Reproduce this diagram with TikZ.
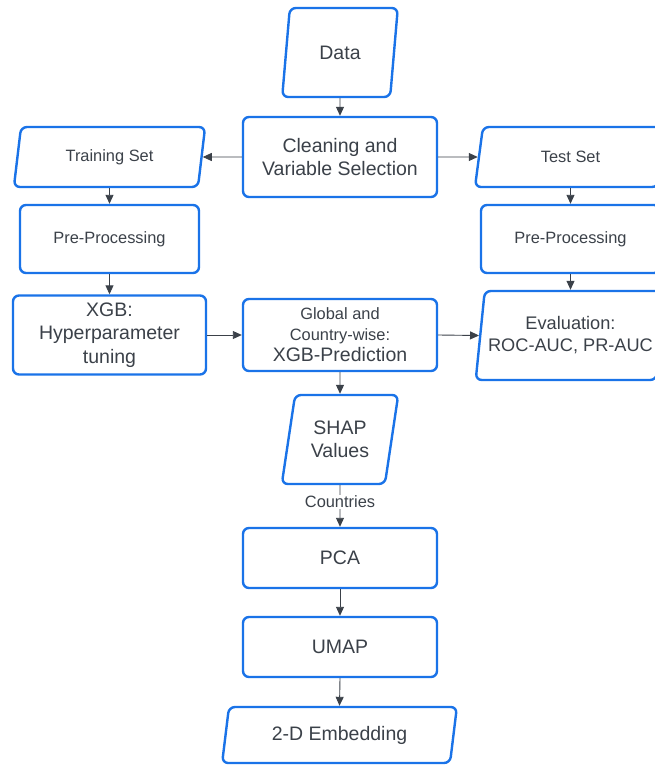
\documentclass[tikz,border=0pt]{standalone}
\usepackage{fontspec}
\setmainfont{Liberation Sans}
\usetikzlibrary{shapes.geometric, arrows.meta}
\definecolor{boxblue}{HTML}{1A73E8}
\definecolor{inkgray}{HTML}{3B4149}

\begin{document}
\begin{tikzpicture}[x=1pt, y=-1pt]
\tikzstyle{boxStyle}=[shape = rectangle, draw = boxblue, line width = 2.4pt,
rounded corners = 6pt, fill = white, text = inkgray, align = center, inner sep = 0pt]
\tikzstyle{ioStyle}=[shape = trapezium, trapezium left angle = 77, trapezium right angle = 103,
trapezium stretches = true, draw = boxblue, line width = 2.4pt,
rounded corners = 6pt, fill = white, text = inkgray, align = center, inner sep = 0pt]
\tikzstyle{bigStyle}=[font = \fontsize{19.5}{23.5}\selectfont]
\tikzstyle{smallStyle}=[font = \fontsize{16.4}{21}\selectfont]
\tikzstyle{arStyle}=[draw = inkgray, line width = 0.9pt, -{Triangle[length=9pt, width=8pt]}]
\tikzstyle{lblStyle}=[fill = white, text = inkgray, inner sep = 1pt, smallStyle]

\useasboundingbox (0,0) rectangle (655,765);
\clip (0,0) rectangle (655,765);

% middle column
\draw (340,52.5) node[ioStyle, bigStyle, minimum width = 116pt, minimum height = 89pt] (data) {Data};
\draw (340,157) node[boxStyle, bigStyle, minimum width = 194pt, minimum height = 80pt] (clean) {Cleaning and\\Variable Selection};
\draw (340,335) node[boxStyle, smallStyle, minimum width = 194pt, minimum height = 72pt] (pred)
	{Global and\\Country-wise:\\{\fontsize{19.5}{23.5}\selectfont XGB-Prediction}};
\draw (340,439.5) node[ioStyle, bigStyle, minimum width = 117pt, minimum height = 89pt] (shap) {SHAP\\Values};
\draw (340,558) node[boxStyle, bigStyle, minimum width = 194pt, minimum height = 60pt] (pca) {PCA};
\draw (340,647) node[boxStyle, bigStyle, minimum width = 194pt, minimum height = 60pt] (umap) {UMAP};
\draw (339.5,735) node[ioStyle, bigStyle, minimum width = 235pt, minimum height = 56pt] (embed) {2-D Embedding};

% training side
\draw (109.5,157) node[ioStyle, smallStyle, minimum width = 192pt, minimum height = 60pt] (trainset) {Training Set};
\draw (109.5,239) node[boxStyle, smallStyle, minimum width = 179pt, minimum height = 68pt] (trainpre) {Pre-Processing};
\draw (109.5,335) node[boxStyle, bigStyle, minimum width = 193pt, minimum height = 79pt] (xgb) {XGB:\\Hyperparameter\\tuning};

% test side
\draw (570.5,157) node[ioStyle, smallStyle, minimum width = 192pt, minimum height = 60pt] (testset) {Test Set};
\draw (570.5,239) node[boxStyle, smallStyle, minimum width = 179pt, minimum height = 68pt] (testpre) {Pre-Processing};
\draw (570.5,335.5) node[ioStyle, font = \fontsize{18.2}{22}\selectfont, minimum width = 190pt, minimum height = 89pt] (eval)
	{Evaluation:\\ROC-AUC, PR-AUC};

\foreach \a/\b in {data/clean, trainset/trainpre, trainpre/xgb, testset/testpre, testpre/eval, pred/shap, pca/umap, umap/embed}
{
	\draw[arStyle] (\a.south) -- (\b.north);
}

\foreach \a/\b in {clean/testset, xgb/pred, pred/eval}
{
	\draw[arStyle] (\a.east) -- (\b.west);
}
\draw[arStyle] (clean.west) -- (trainset.east);

\draw[arStyle] (shap.south) -- node[lblStyle, pos = 0.4] {Countries} (pca.north);
\end{tikzpicture}
\end{document}
